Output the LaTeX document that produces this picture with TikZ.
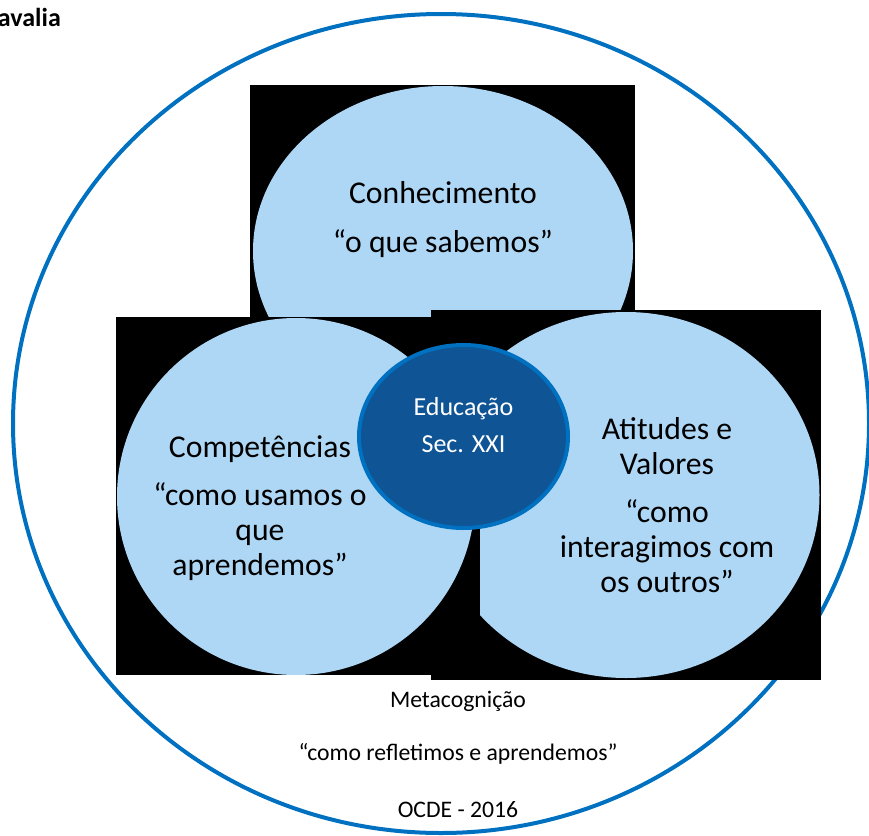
\documentclass[tikz,border=0pt]{standalone}
\usepackage{fontspec}
\setmainfont{Carlito}
\usepackage{tikz}
\usetikzlibrary{shapes.geometric}

\definecolor{azulcirc}{RGB}{0,112,192}
\definecolor{azulclaro}{RGB}{174,214,245}
\definecolor{azulescuro}{RGB}{15,84,148}

\begin{document}
\begin{tikzpicture}[x=1pt,y=-1pt,
    bolha/.style={ellipse,fill=azulclaro,inner sep=0pt},
    texto/.style={align=center,anchor=base,font=\fontsize{31.7}{35}\selectfont},
    rodape/.style={align=center,anchor=base,font=\fontsize{23.7}{28}\selectfont}]
        \useasboundingbox (0,0) rectangle (869,835);

        \node[ellipse,draw=azulcirc,line width=4pt,inner sep=0pt,minimum width=856,minimum height=819] (metacog) at (441,423.5) {};

        \fill[black] (250,85) rectangle (635,420);
        \node[bolha,minimum width=380,minimum height=330] (conhec) at (443,251) {};

        \fill[black] (431,310) rectangle (821,680);
        \node[bolha,minimum width=387,minimum height=366] (atitudes) at (626,495) {};

        \fill[black] (116,317) rectangle (480,675);
        \node[bolha,minimum width=358,minimum height=357] (compet) at (296,496.5) {};

        \node[ellipse,fill=azulescuro,draw=azulcirc,line width=4pt,inner sep=0pt,minimum width=209,minimum height=183] (educ) at (463.5,436.5) {};

        % base = ultima linha
        \node[texto] (t-conhec) at (443,252) {Conhecimento\\[14pt]“o que sabemos”};
        \node[texto] (t-compet) at (260,575) {Competências\\[13pt]“como usamos o\\que\\aprendemos”};
        \node[texto] (t-atitudes) at (667,592) {Atitudes e\\Valores\\[13pt]“como\\interagimos com\\os outros”};
        \node[align=center,anchor=base,text=white,font=\fontsize{26}{37}\selectfont] (t-educ) at (463.5,452) {Educação\\Sec. XXI};
        \node[rodape] (t-meta) at (458,817) {Metacognição\\[25pt]“como refletimos e aprendemos”\\[29pt]OCDE - 2016};

        \node[anchor=base east,inner sep=0pt,font=\bfseries\fontsize{26}{30}\selectfont] (t-avalia) at (61,27) {avalia};
      \end{tikzpicture}
\end{document}
